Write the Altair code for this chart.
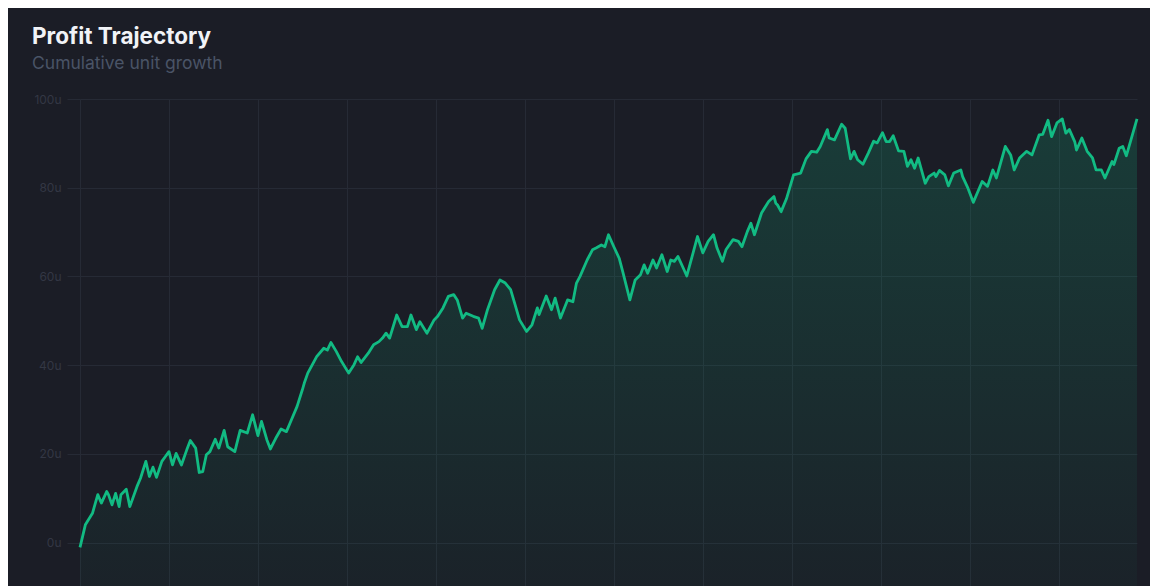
import altair as alt
import pandas as pd

# Bet number (x) and cumulative profit in units (y)
bets = [0, 3, 7, 10, 12, 15, 16, 18, 20, 22, 23, 26, 28, 32, 34, 37, 39, 41, 43, 46,
        48, 50, 52, 54, 57, 60, 62, 65, 67, 69, 71, 73, 76, 78, 81, 83, 87, 90, 94, 97,
        100, 102, 105, 107, 110, 113, 116, 118, 122, 125, 126, 128, 133, 137, 139, 141, 144, 147, 151, 154,
        156, 158, 162, 165, 168, 170, 172, 174, 178, 181, 184, 186, 189, 191, 195, 199, 201, 204, 207, 210,
        212, 215, 217, 221, 224, 226, 229, 233, 236, 239, 242, 244, 247, 251, 254, 257, 258, 262, 265, 267,
        270, 274, 277, 279, 281, 285, 288, 290, 293, 295, 297, 300, 303, 305, 309, 312, 315, 317, 319, 322,
        324, 327, 330, 332, 334, 336, 339, 341, 344, 347, 350, 353, 356, 358, 361, 363, 367, 370, 372, 375,
        377, 379, 383, 387, 390, 391, 392, 394, 397, 401, 405, 408, 411, 414, 416, 420, 421, 424, 428, 430,
        433, 435, 437, 440, 443, 446, 448, 451, 453, 455, 457, 460, 463, 465, 467, 469, 471, 475, 477, 480,
        481, 483, 486, 488, 491, 495, 496, 499, 502, 507, 510, 513, 515, 520, 523, 525, 528, 532, 535, 539,
        541, 544, 546, 549, 552, 554, 556, 559, 560, 563, 566, 569, 571, 574, 576, 580, 581, 584, 586, 588,
        594]
profit = [-1.1, 4.0, 6.6, 10.8, 8.9, 11.5, 10.8, 8.5, 11.1, 8.1, 10.8, 12.0, 8.1, 12.6, 14.5, 18.3, 14.9, 17.0, 14.7, 18.3,
          19.4, 20.5, 17.5, 20.1, 17.5, 20.9, 23.0, 21.3, 15.8, 16.0, 19.8, 20.5, 23.3, 21.3, 25.3, 21.6, 20.5, 25.3, 24.7, 28.8,
          24.1, 27.3, 23.2, 21.1, 23.5, 25.6, 25.0, 26.9, 30.7, 34.5, 35.9, 38.2, 41.9, 43.8, 43.4, 45.1, 43.1, 40.8, 38.2, 40.1,
          41.9, 40.6, 42.7, 44.6, 45.3, 46.1, 47.2, 46.1, 51.3, 48.7, 48.7, 51.3, 48.0, 49.8, 47.2, 50.2, 51.0, 52.9, 55.5, 55.9,
          54.7, 50.6, 51.7, 51.0, 50.6, 48.3, 52.5, 57.0, 59.2, 58.5, 57.0, 54.3, 50.2, 47.6, 49.1, 52.9, 51.4, 55.6, 52.5, 55.1,
          50.6, 54.7, 54.3, 58.5, 60.0, 63.7, 66.0, 66.4, 67.1, 66.7, 69.4, 66.7, 64.1, 61.1, 54.7, 59.2, 60.4, 62.6, 60.7, 63.7,
          61.9, 64.9, 61.1, 63.7, 63.4, 64.5, 61.9, 60.1, 64.5, 69.0, 65.3, 67.9, 69.4, 66.4, 63.4, 66.0, 68.3, 67.9, 66.7, 70.1,
          72.0, 69.4, 74.3, 76.9, 78.0, 76.5, 76.1, 74.6, 77.5, 82.9, 83.3, 86.5, 88.2, 88.0, 89.3, 93.1, 91.2, 90.8, 94.3, 93.4,
          86.5, 88.2, 86.3, 85.3, 87.8, 90.5, 90.1, 92.4, 90.4, 90.4, 91.7, 88.3, 88.2, 84.8, 86.3, 84.4, 86.7, 81.0, 82.5, 83.3,
          82.5, 83.9, 82.9, 80.4, 83.3, 84.0, 82.5, 79.9, 76.7, 81.4, 80.3, 84.0, 82.2, 89.3, 87.4, 84.0, 86.7, 88.2, 87.4, 91.9,
          92.0, 95.2, 91.5, 94.6, 95.5, 92.3, 93.1, 90.4, 88.5, 91.2, 88.2, 86.7, 84.0, 84.0, 82.2, 85.9, 85.2, 88.9, 89.3, 87.2,
          95.5]

y_ticks = [0, 20, 40, 60, 80, 100]
x_ticks = [0, 50, 100, 150, 200, 250, 300, 350, 400, 450, 500, 550]

df = pd.DataFrame({"bet": bets, "profit": profit})

BG = "#1b1d26"
GRID = "#262a35"
LINE = "#12bb83"

x_enc = alt.X(
    "bet:Q",
    scale=alt.Scale(domain=[0, 594], nice=False, zero=False),
    axis=alt.Axis(values=x_ticks, labels=False, ticks=False, domain=False, title=None,
                  grid=True, gridColor=GRID, gridWidth=1),
)
y_enc = alt.Y(
    "profit:Q",
    scale=alt.Scale(domain=[-11.6, 100], nice=False, zero=False),
    axis=alt.Axis(values=y_ticks, labelExpr="datum.value + 'u'", domain=False, title=None,
                  grid=True, gridColor=GRID, gridWidth=1,
                  ticks=True, tickColor=GRID, tickSize=13, tickWidth=1,
                  labelColor="#333744", labelFont="Inter", labelFontSize=12,
                  labelPadding=6),
)

area = alt.Chart(df).mark_area(
    color=alt.Gradient(
        gradient="linear",
        stops=[alt.GradientStop(color="rgba(16,185,129,0.20)", offset=0),
               alt.GradientStop(color="rgba(16,185,129,0.03)", offset=1)],
        x1=0, x2=0, y1=0, y2=1,
    ),
    interpolate="linear",
).encode(x=x_enc, y=y_enc, y2=alt.datum(-11.6))

line = alt.Chart(df).mark_line(color=LINE, strokeWidth=2.8, strokeJoin="round").encode(
    x=alt.X("bet:Q"), y=alt.Y("profit:Q")
)

chart = (
    alt.layer(area, line)
    .properties(
        width=1057,
        height=495,
        background=BG,
        padding={"left": 72, "top": 91, "right": 13, "bottom": 0},
        autosize=alt.AutoSizeParams(type="none"),
        title=alt.TitleParams(
            text="Profit Trajectory",
            subtitle="Cumulative unit growth",
            anchor="start",
            frame="group",
            dx=-48,
            offset=21,
            font="Inter",
            fontSize=22.5,
            fontWeight="bold",
            color="#f1f3f7",
            subtitleFont="Inter",
            subtitleFontSize=17.5,
            subtitleColor="#4a5466",
            subtitlePadding=6,
        ),
    )
    .configure_view(stroke=None)
)

chart.save("out.html", embed_options={"renderer": "svg", "actions": False})
